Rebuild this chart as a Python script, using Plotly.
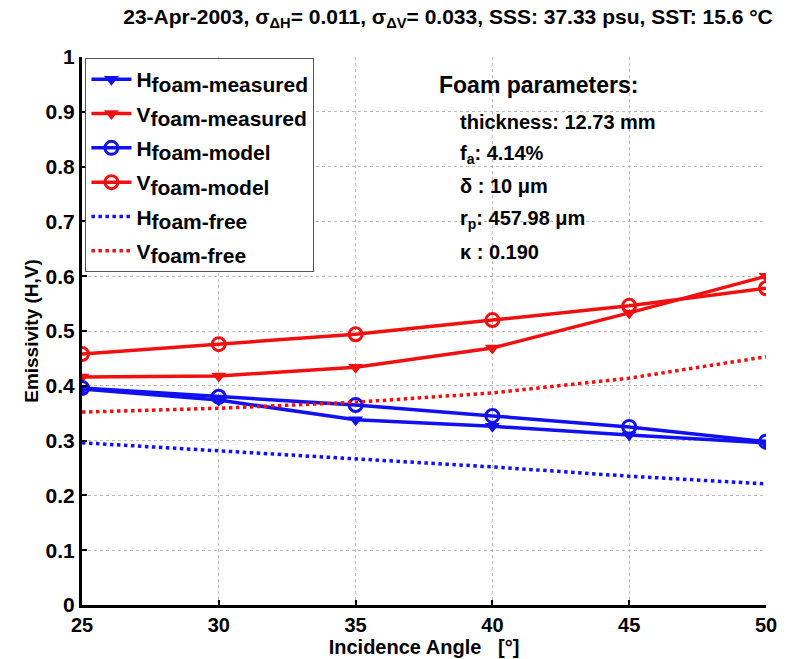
import plotly.graph_objects as go

angles = [25, 30, 35, 40, 45, 50]
h_measured = [0.394, 0.374, 0.338, 0.326, 0.310, 0.296]
v_measured = [0.416, 0.418, 0.434, 0.469, 0.533, 0.600]
h_model = [0.396, 0.380, 0.365, 0.345, 0.325, 0.298]
v_model = [0.458, 0.476, 0.494, 0.520, 0.546, 0.578]
free_angles = [25, 30, 35, 40, 45, 50]
h_free = [0.296, 0.281, 0.267, 0.252, 0.235, 0.221]
v_free = [0.352, 0.359, 0.370, 0.387, 0.414, 0.453]

x_ticks = [25, 30, 35, 40, 45, 50]
y_ticks = [0, 0.1, 0.2, 0.3, 0.4, 0.5, 0.6, 0.7, 0.8, 0.9, 1]
y_tick_text = ["0", "0.1", "0.2", "0.3", "0.4", "0.5", "0.6", "0.7", "0.8", "0.9", "1"]

BLUE = "#1010f0"
RED = "#f01010"
FONT = "Liberation Sans Narrow, Liberation Sans, Arial"
SANS = "Liberation Sans, Arial"


def leg(main, sub):
    return "<b>%s<sub><span style='font-size:21px'>%s</span></sub></b>" % (main, sub)


fig = go.Figure()
fig.add_trace(go.Scatter(x=angles, y=h_measured, mode="lines+markers",
                         name=leg("H", "foam-measured"), legendgroup="a",
                         line=dict(color=BLUE, width=3.5),
                         marker=dict(symbol="triangle-down", size=13, color=BLUE)))
fig.add_trace(go.Scatter(x=angles, y=v_measured, mode="lines+markers",
                         name=leg("V", "foam-measured"), legendgroup="b",
                         line=dict(color=RED, width=3.5),
                         marker=dict(symbol="triangle-down", size=13, color=RED)))
fig.add_trace(go.Scatter(x=angles, y=h_model, mode="lines+markers",
                         name=leg("H", "foam-model"), legendgroup="c",
                         line=dict(color=BLUE, width=3.5),
                         marker=dict(symbol="circle-open", size=13, color=BLUE,
                                     line=dict(width=3, color=BLUE))))
fig.add_trace(go.Scatter(x=angles, y=v_model, mode="lines+markers",
                         name=leg("V", "foam-model"), legendgroup="d",
                         line=dict(color=RED, width=3.5),
                         marker=dict(symbol="circle-open", size=13, color=RED,
                                     line=dict(width=3, color=RED))))
fig.add_trace(go.Scatter(x=free_angles, y=h_free, mode="lines",
                         name=leg("H", "foam-free"), legendgroup="e",
                         line=dict(color=BLUE, width=3.5, dash="dot")))
fig.add_trace(go.Scatter(x=free_angles, y=v_free, mode="lines",
                         name=leg("V", "foam-free"), legendgroup="f",
                         line=dict(color=RED, width=3.5, dash="dot")))

annotations = [
    dict(x=437, y=85, text="<b>Foam parameters:</b>", size=23),
    dict(x=458, y=122, text="<b>thickness: 12.73 mm</b>", size=20),
    dict(x=458, y=154, text="<b>f<sub>a</sub>: 4.14%</b>", size=20),
    dict(x=458, y=186, text="<b>δ : 10 μm</b>", size=20),
    dict(x=458, y=219, text="<b>r<sub>p</sub>: 457.98 μm</b>", size=20),
    dict(x=458, y=252, text="<b>κ : 0.190</b>", size=20),
]
for a in annotations:
    fig.add_annotation(x=(a["x"] - 82) / 684, y=(605 - a["y"]) / 548,
                       xref="paper", yref="paper", xanchor="left", yanchor="middle",
                       text=a["text"], showarrow=False,
                       font=dict(family=SANS, size=a["size"], color="black"))

fig.update_layout(
    width=800, height=659,
    margin=dict(l=82, r=34, t=57, b=54),
    paper_bgcolor="white", plot_bgcolor="white",
    title=dict(text="<b>23-Apr-2003, σ<sub>ΔH</sub>= 0.011, σ<sub>ΔV</sub>= 0.033, SSS: 37.33 psu, SST: 15.6 °C</b>",
               x=0.56, xanchor="center", y=0.975, yanchor="middle",
               font=dict(family=SANS, size=21, color="black")),
    legend=dict(x=0.005, y=0.998, xanchor="left", yanchor="top",
                bgcolor="white", bordercolor="#555", borderwidth=1,
                font=dict(family=SANS, size=21, color="black"),
                tracegroupgap=4, itemwidth=40, traceorder="grouped"),
    showlegend=True,
)
fig.update_xaxes(range=[25, 50], tickvals=x_ticks, ticks="inside", ticklen=5,
                 tickwidth=2, tickcolor="black", automargin=False,
                 showline=True, linecolor="black", linewidth=3, mirror=False,
                 showgrid=True, gridcolor="#bbbbbb", griddash="dot", gridwidth=1,
                 zeroline=False,
                 tickfont=dict(family=FONT, size=20, color="black", weight="bold"),
                 title=dict(text="<b>Incidence Angle   [°]</b>", standoff=0,
                            font=dict(family=FONT, size=20, color="black")))
fig.update_yaxes(range=[0, 1], tickvals=y_ticks, ticktext=y_tick_text,
                 ticks="inside", ticklen=5, tickwidth=2, tickcolor="black", automargin=False,
                 showline=True, linecolor="black", linewidth=3, mirror=False,
                 showgrid=True, gridcolor="#bbbbbb", griddash="dot", gridwidth=1,
                 zeroline=False,
                 tickfont=dict(family=FONT, size=21, color="black", weight="bold"),
                 title=dict(text="<b>Emissivity (H,V)</b>", standoff=2,
                            font=dict(family=SANS, size=19, color="black")))

fig.write_html("out.html")
